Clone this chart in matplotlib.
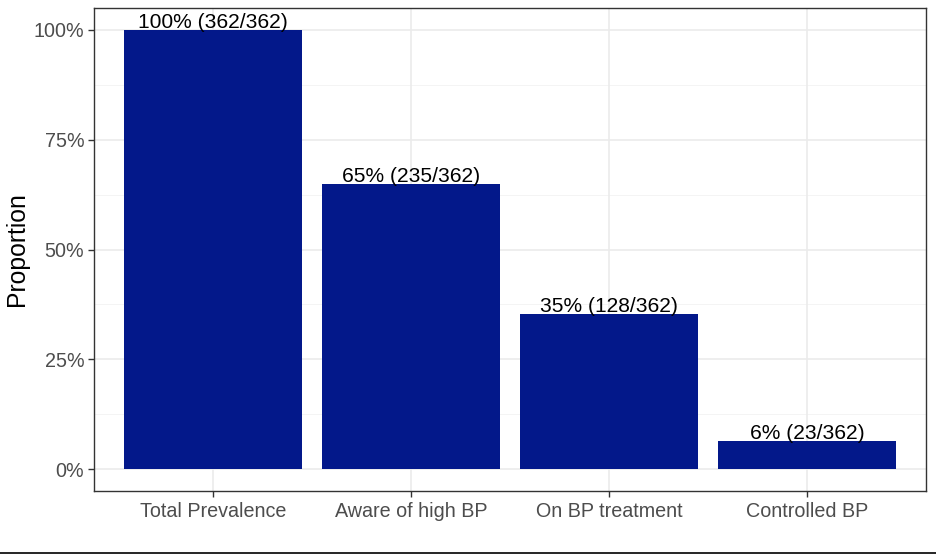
import matplotlib
matplotlib.use("Agg")
import matplotlib.pyplot as plt
from matplotlib.lines import Line2D
import numpy as np

categories = ["Total Prevalence", "Aware of high BP", "On BP treatment", "Controlled BP"]
counts = [362, 235, 128, 23]
total = 362
yticks = [0, 0.25, 0.5, 0.75, 1.0]
ytick_labels = ["0%", "25%", "50%", "75%", "100%"]

props = [c / total for c in counts]
labels = [f"{round(p*100):d}% ({c}/{total})" for p, c in zip(props, counts)]

plt.rcParams['font.family'] = ['Liberation Sans', 'DejaVu Sans']

W, H = 936, 554
fig = plt.figure(figsize=(W / 100, H / 100), dpi=100)
left, right, top, bottom = 94, 926, 8, 491
ax = fig.add_axes([left / W, 1 - bottom / H, (right - left) / W, (bottom - top) / H])

x = np.arange(1, len(categories) + 1)
ax.set_xlim(0.4, len(categories) + 0.6)
ax.set_ylim(-0.05, 1.05)

# grid
for yv in np.arange(0.125, 1.0, 0.25):
    ax.axhline(yv, color="#F2F2F2", lw=0.6, zorder=0)
for yv in yticks:
    ax.axhline(yv, color="#EBEBEB", lw=1.2, zorder=0)
for xv in x:
    ax.axvline(xv, color="#EBEBEB", lw=1.2, zorder=0)

ax.bar(x, props, width=0.9, color="#03188A", zorder=2)
for xv, p, lab in zip(x, props, labels):
    ax.annotate(lab, (xv, p), xytext=(0, 1.5), textcoords="offset points",
                ha="center", va="baseline", fontsize=15.1, color="black", zorder=3)

ax.set_xticks(x)
ax.set_xticklabels(categories)
ax.set_yticks(yticks)
ax.set_yticklabels(ytick_labels)
ax.tick_params(axis="both", colors="#333333", labelcolor="#4D4D4D", labelsize=14.2,
               length=4, width=1)
ax.tick_params(axis="x", pad=4)
ax.tick_params(axis="y", pad=3)
for s in ax.spines.values():
    s.set_color("#333333")
    s.set_linewidth(1)

ax.set_ylabel("Proportion", fontsize=17.8, color="black", va="center")
ax.yaxis.set_label_coords((17 - left) / (right - left), 0.5)

fig.add_artist(Line2D([0, 1], [1.5 / H, 1.5 / H], color="black", lw=1.2,
                      transform=fig.transFigure))

fig.savefig("out.png", dpi=100)
